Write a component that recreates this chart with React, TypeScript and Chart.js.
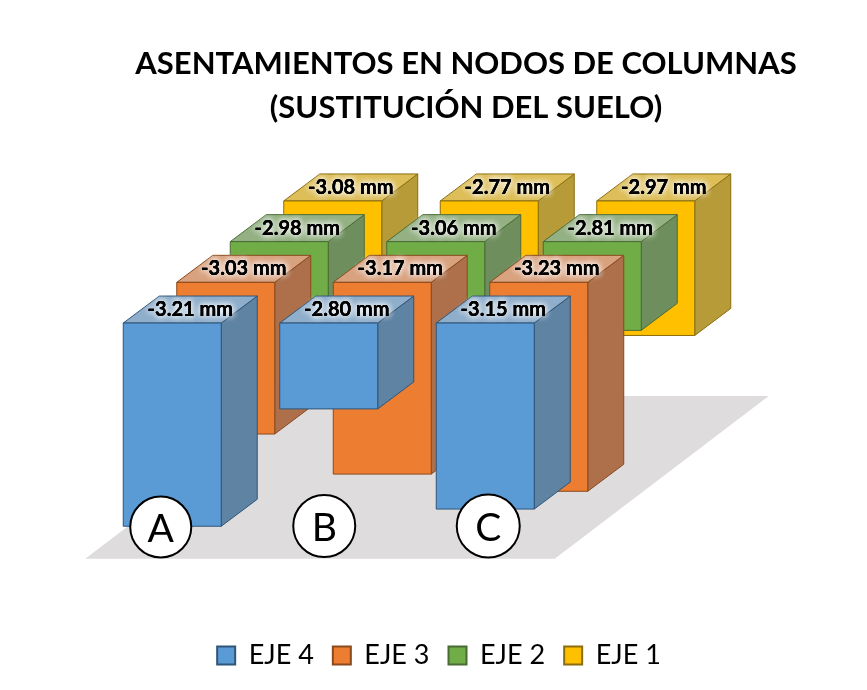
import React, { useEffect, useRef } from 'react';
import { Chart, registerables } from 'chart.js';

Chart.register(...registerables);

const categories = ['A', 'B', 'C'];
const eje4 = [-3.21, -2.8, -3.15];
const eje3 = [-3.03, -3.17, -3.23];
const eje2 = [-2.98, -3.06, -2.81];
const eje1 = [-3.08, -2.77, -2.97];
const seriesNames = ['EJE 4', 'EJE 3', 'EJE 2', 'EJE 1'];
const titleLines = ['ASENTAMIENTOS EN NODOS DE COLUMNAS', '(SUSTITUCIÓN DEL SUELO)'];

const AXIS_MIN = -3.3;
const AXIS_TOP = -2.5;

// front, side, top, edge
const palette = [
  ['#5B9BD5', '#5F83A3', '#8FAECB', '#2F5578'],
  ['#ED7D31', '#AD704B', '#D9A27F', '#8A4A1E'],
  ['#70AD47', '#6E8F5D', '#93B183', '#4A6B35'],
  ['#FFC000', '#B89B39', '#DDBE58', '#8A6D10'],
];

// 3D look: how far each row moves back, and the depth of a single bar
const ROW_X = 53.5;
const ROW_Y = -40.7;
const DEPTH_X = 36;
const DEPTH_Y = -27;

const circles = [
  { text: 'A', dx: -11.5, y: 527, r: 30.5 },
  { text: 'B', dx: -4.5, y: 526, r: 31 },
  { text: 'C', dx: 3, y: 526, r: 31.5 },
];

const poly = (ctx: CanvasRenderingContext2D, pts: number[][], fill: string, edge: string) => {
  ctx.beginPath();
  pts.forEach((p, i) => (i ? ctx.lineTo(p[0], p[1]) : ctx.moveTo(p[0], p[1])));
  ctx.closePath();
  ctx.fillStyle = fill;
  ctx.fill();
  ctx.strokeStyle = edge;
  ctx.lineWidth = 1;
  ctx.stroke();
};

const bars3d = {
  id: 'bars3d',
  // default flat bars are replaced by the boxes below
  beforeDatasetsDraw(chart: any) {
    const { ctx, chartArea } = chart;
    const gapX = (ROW_X - DEPTH_X) / 2;
    const l = chartArea.left - gapX;
    const r = chartArea.right - gapX;
    const b = chart.scales.y.getPixelForValue(AXIS_MIN) + (-ROW_Y + DEPTH_Y) / 2;
    const backX = ROW_X * 4;
    const backY = ROW_Y * 4;
    ctx.save();
    ctx.beginPath();
    ctx.moveTo(l, b);
    ctx.lineTo(r, b);
    ctx.lineTo(r + backX, b + backY);
    ctx.lineTo(l + backX, b + backY);
    ctx.closePath();
    ctx.fillStyle = '#DEDCDD';
    ctx.fill();
    ctx.restore();

    for (let d = chart.data.datasets.length - 1; d >= 0; d--) {
      const [front, side, top, edge] = palette[d];
      const sx = d * ROW_X;
      const sy = d * ROW_Y;
      chart.getDatasetMeta(d).data.forEach((bar: any) => {
        const x0 = bar.x - bar.width / 2 + sx;
        const x1 = bar.x + bar.width / 2 + sx;
        const y0 = bar.base + sy;
        const y1 = bar.y + sy;
        ctx.save();
        poly(ctx, [[x1, y0], [x1 + DEPTH_X, y0 + DEPTH_Y], [x1 + DEPTH_X, y1 + DEPTH_Y], [x1, y1]], side, edge);
        poly(ctx, [[x0, y0], [x0 + DEPTH_X, y0 + DEPTH_Y], [x1 + DEPTH_X, y0 + DEPTH_Y], [x1, y0]], top, edge);
        poly(ctx, [[x0, y0], [x1, y0], [x1, y1], [x0, y1]], front, edge);
        ctx.restore();
      });
    }
    return false;
  },
  afterDraw(chart: any) {
    const { ctx } = chart;
    ctx.save();
    ctx.textAlign = 'center';
    ctx.textBaseline = 'middle';
    // value labels with the soft white glow
    for (let d = chart.data.datasets.length - 1; d >= 0; d--) {
      const values = chart.data.datasets[d].data;
      chart.getDatasetMeta(d).data.forEach((bar: any, i: number) => {
        const x = bar.x + d * ROW_X + DEPTH_X / 2;
        const y = bar.base + d * ROW_Y + DEPTH_Y / 2;
        const label = `${values[i].toFixed(2)} mm`;
        ctx.font = 'bold 20px Lato';
        ctx.fillStyle = '#000';
        ctx.shadowColor = 'rgba(255,255,255,0.85)';
        ctx.shadowBlur = 6;
        ctx.fillText(label, x, y);
        ctx.fillText(label, x, y);
        ctx.fillText(label, x, y);
        ctx.shadowBlur = 0;
        ctx.fillText(label, x, y);
      });
    }
    // A / B / C bubbles
    circles.forEach((c, i) => {
      const x = chart.scales.x.getPixelForValue(i) + c.dx;
      ctx.beginPath();
      ctx.arc(x, c.y, c.r, 0, Math.PI * 2);
      ctx.fillStyle = '#fff';
      ctx.fill();
      ctx.strokeStyle = '#000';
      ctx.lineWidth = 2;
      ctx.stroke();
      ctx.fillStyle = '#000';
      ctx.font = '39px Lato';
      ctx.fillText(c.text, x, c.y + 2);
    });
    ctx.restore();
  },
  afterLayout(chart: any) {
    // title sits right of the canvas centre in the original
    chart.titleBlock.left += 27;
    chart.titleBlock.right += 27;
  },
};

const App: React.FC = () => {
  const canvasRef = useRef<HTMLCanvasElement>(null);

  useEffect(() => {
    document.body.style.margin = '0';
    if (!canvasRef.current) return;
    const allSeries = [eje4, eje3, eje2, eje1];
    const chart = new Chart(canvasRef.current, {
      type: 'bar',
      data: {
        labels: categories,
        datasets: allSeries.map((data, i) => ({
          label: seriesNames[i],
          data,
          base: AXIS_TOP,
          grouped: false,
          backgroundColor: palette[i][0],
          borderColor: palette[i][3],
          borderWidth: 2,
          categoryPercentage: 0.626,
          barPercentage: 1,
        })),
      },
      plugins: [bars3d],
      options: {
        responsive: false,
        animation: false,
        layout: { padding: { left: 11, right: 0, top: 0, bottom: 11 } },
        scales: {
          x: {
            ticks: { display: false },
            grid: { display: false },
            border: { display: false },
            afterFit: (s: any) => { s.height = 71; },
          },
          y: {
            min: AXIS_MIN,
            max: AXIS_TOP,
            ticks: { display: false },
            grid: { display: false },
            border: { display: false },
            afterFit: (s: any) => { s.width = 83; },
          },
          spacer: {
            position: 'right',
            ticks: { display: false },
            grid: { display: false },
            border: { display: false },
            afterFit: (s: any) => { s.width = 303.5; },
          },
        },
        plugins: {
          title: {
            display: true,
            text: titleLines,
            color: '#000',
            font: { family: 'Lato', size: 31, weight: 'bold', lineHeight: 1.42 },
            padding: { top: 42, bottom: 193 },
          },
          legend: {
            position: 'bottom',
            labels: {
              boxWidth: 18,
              boxHeight: 18,
              padding: 19,
              color: '#000',
              font: { family: 'Lato', size: 27 },
            },
          },
          tooltip: { enabled: false },
        },
      } as any,
    });
    return () => chart.destroy();
  }, []);

  return <canvas ref={canvasRef} width={867} height={690} style={{ display: 'block' }} />;
};

export default App;
